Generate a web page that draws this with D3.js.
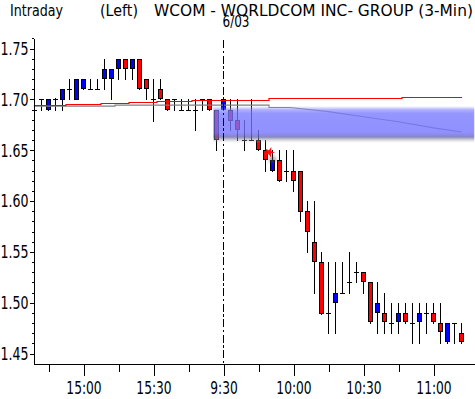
<!DOCTYPE html>
<html>
<head>
<meta charset="utf-8">
<script src="https://cdn.jsdelivr.net/npm/d3@7"></script>
<style>
body { margin: 0; background: #fff; }
svg { display: block; font-family: "DejaVu Sans", sans-serif; }
</style>
</head>
<body>
<svg id="chart" width="475" height="399"></svg>
<script>
// candles, one every 3 minutes; index 0 is the 9:30 open of 6/03
var firstIdx = -27;
var opens  = [1.69, 1.70, 1.691, 1.70, 1.70, 1.71, 1.70, 1.711, 1.71, 1.71,
              1.721, 1.721, 1.731, 1.74, 1.731, 1.74, 1.72, 1.70, 1.71, 1.70,
              1.70, 1.69, 1.69, 1.69, 1.70, 1.70, 1.69,
              1.691, 1.69, 1.68, 1.66, 1.66, 1.66, 1.65, 1.631, 1.64, 1.63,
              1.63, 1.63, 1.59, 1.56, 1.54, 1.49, 1.501, 1.51, 1.52, 1.53,
              1.53, 1.52, 1.491, 1.49, 1.48, 1.482, 1.49, 1.48, 1.482, 1.49,
              1.49, 1.48, 1.462, 1.48, 1.47];
var highs  = [1.70, 1.70, 1.70, 1.701, 1.71, 1.72, 1.72, 1.72, 1.72, 1.72,
              1.74, 1.73, 1.74, 1.74, 1.74, 1.74, 1.72, 1.72, 1.72, 1.70,
              1.70, 1.70, 1.70, 1.70, 1.70, 1.70, 1.69,
              1.70, 1.70, 1.70, 1.68, 1.70, 1.67, 1.66, 1.65, 1.65, 1.65,
              1.65, 1.63, 1.60, 1.60, 1.55, 1.54, 1.54, 1.54, 1.55, 1.54,
              1.53, 1.52, 1.52, 1.51, 1.50, 1.50, 1.50, 1.50, 1.50, 1.50,
              1.50, 1.50, 1.48, 1.48, 1.48];
var lows   = [1.679, 1.69, 1.69, 1.69, 1.69, 1.70, 1.70, 1.71, 1.71, 1.71,
              1.71, 1.70, 1.72, 1.72, 1.72, 1.71, 1.70, 1.679, 1.70, 1.69,
              1.69, 1.69, 1.69, 1.67, 1.69, 1.69, 1.65,
              1.69, 1.67, 1.66, 1.65, 1.66, 1.65, 1.63, 1.63, 1.62, 1.62,
              1.61, 1.58, 1.55, 1.51, 1.489, 1.47, 1.47, 1.51, 1.51, 1.52,
              1.51, 1.48, 1.47, 1.47, 1.47, 1.47, 1.48, 1.46, 1.46, 1.47,
              1.48, 1.46, 1.46, 1.46, 1.46];
var closes = [1.69, 1.70, 1.70, 1.70, 1.71, 1.71, 1.72, 1.72, 1.71, 1.71,
              1.73, 1.73, 1.74, 1.731, 1.74, 1.711, 1.711, 1.70, 1.701, 1.691,
              1.70, 1.69, 1.69, 1.69, 1.70, 1.691, 1.661,
              1.70, 1.68, 1.671, 1.66, 1.66, 1.651, 1.641, 1.64, 1.621, 1.63,
              1.621, 1.59, 1.571, 1.541, 1.49, 1.49, 1.51, 1.51, 1.52, 1.53,
              1.521, 1.482, 1.50, 1.482, 1.48, 1.49, 1.482, 1.48, 1.49, 1.49,
              1.482, 1.472, 1.48, 1.48, 1.462];

// moving averages (index, price)
var redIdx  = [-27.1, -22.5, -17.5, -13.5, -9.5, -4.5, 6.5, 25.5, 34];
var redVal  = [1.6940, 1.6954, 1.6964, 1.6973, 1.6983, 1.6993, 1.7015, 1.7023, 1.7023];
var greyIdx = [-27.1, -15.5, -15.5, 6.5, 6.5, 9.5, 15, 20, 25, 30, 34];
var greyVal = [1.6934, 1.6934, 1.6944, 1.6944, 1.6921, 1.6921, 1.688, 1.683, 1.678, 1.672, 1.668];

// shaded price zone
var zoneIdx = [-1.5, 35.857];
var zonePrice = [1.6935, 1.6571];

// axes
var xMinorTicks = [-25, -20, -15, -10, -5, 0, 5, 10, 15, 20, 25, 30];
var xLabelTicks = [-20, -10, 0, 10, 20, 30];
var xLabels = ["15:00", "15:30", "9:30", "10:00", "10:30", "11:00"];
var yMajorTicks = [1.45, 1.50, 1.55, 1.60, 1.65, 1.70, 1.75];
var dayBreakIdx = 0;

var svg = d3.select("#chart");

var x = d3.scaleLinear().domain([-27.143, 35.857]).range([33.5, 474.5]);
var y = d3.scaleLinear().domain([1.4402, 1.7603]).range([363.5, 38.1]);

var candles = opens.map(function(o, i) {
    return {i: firstIdx + i, o: o, h: highs[i], l: lows[i], c: closes[i]};
});

function py(v) { return Math.round(y(v)) + 0.5; }

// title: narrow bitmap-like font, squeezed to the measured width
function title(txt, x0, y0, w, size) {
    var t = svg.append("g").append("text")
        .attr("font-size", size)
        .text(txt);
    var sx = w / t.node().getComputedTextLength();
    d3.select(t.node().parentNode)
        .attr("transform", "translate(" + x0 + "," + y0 + ") scale(" + sx + ",1)");
}
title("Intraday", 10, 16, 53, 16.5);
title("(Left)", 100, 16, 38, 16.5);
title("WCOM - WORLDCOM INC- GROUP  (3-Min)", 154, 16, 319, 16.5);
title("6/03", 222.5, 27, 27, 16.5);

// candles
var cg = svg.append("g").attr("shape-rendering", "crispEdges");
cg.selectAll("line.wick").data(candles).enter().append("line")
    .attr("class", "wick")
    .attr("x1", function(d) { return x(d.i); })
    .attr("x2", function(d) { return x(d.i); })
    .attr("y1", function(d) { return Math.round(y(d.h)); })
    .attr("y2", function(d) { return Math.round(y(d.l)) + 1; })
    .attr("stroke", "#000");

cg.selectAll("rect.body").data(candles.filter(function(d) { return d.o !== d.c; }))
    .enter().append("rect")
    .attr("class", "body")
    .attr("x", function(d) { return x(d.i) - 2; })
    .attr("width", 4)
    .attr("y", function(d) { return py(Math.max(d.o, d.c)); })
    .attr("height", function(d) { return py(Math.min(d.o, d.c)) - py(Math.max(d.o, d.c)); })
    .attr("fill", function(d) { return d.c > d.o ? "#0000ff" : "#ff0000"; })
    .attr("stroke", "#000");

cg.selectAll("line.doji").data(candles.filter(function(d) { return d.o === d.c; }))
    .enter().append("line")
    .attr("class", "doji")
    .attr("x1", function(d) { return x(d.i) - 2.5; })
    .attr("x2", function(d) { return x(d.i) + 2.5; })
    .attr("y1", function(d) { return py(d.o); })
    .attr("y2", function(d) { return py(d.o); })
    .attr("stroke", "#000");

// moving average lines
var greyLine = d3.line().x(function(d) { return x(d[0]); }).y(function(d) { return y(d[1]); });
var redLine = d3.line().x(function(d) { return Math.round(x(d[0])); }).y(function(d) { return py(d[1]); })
    .curve(d3.curveStepAfter);
svg.append("path")
    .datum(d3.zip(greyIdx, greyVal))
    .attr("d", greyLine)
    .attr("fill", "none").attr("stroke", "#808080").attr("stroke-width", 1.1);
svg.append("path")
    .datum(d3.zip(redIdx, redVal))
    .attr("d", redLine)
    .attr("fill", "none").attr("stroke", "#ff0000").attr("stroke-width", 1.2);

// shaded zone
var defs = svg.append("defs");
var grad = defs.append("linearGradient").attr("id", "zone")
    .attr("x1", 0).attr("y1", 0).attr("x2", 0).attr("y2", 1);
[[0, "#9696ff", 0], [0.1, "#8888ff", 0.65], [0.2, "#7878ff", 0.78],
 [0.72, "#7474ff", 0.8], [0.84, "#6666b4", 0.78], [0.9, "#8c8ca0", 0.5], [1, "#c8c8c8", 0]]
    .forEach(function(s) {
        grad.append("stop").attr("offset", s[0]).attr("stop-color", s[1]).attr("stop-opacity", s[2]);
    });
var hgrad = defs.append("linearGradient").attr("id", "zoneMask")
    .attr("x1", 0).attr("y1", 0).attr("x2", 1).attr("y2", 0);
hgrad.append("stop").attr("offset", 0).attr("stop-color", "#fff").attr("stop-opacity", 0.6);
hgrad.append("stop").attr("offset", 0.01).attr("stop-color", "#fff").attr("stop-opacity", 1);
hgrad.append("stop").attr("offset", 1).attr("stop-color", "#fff").attr("stop-opacity", 1);
defs.append("mask").attr("id", "zm").attr("maskContentUnits", "objectBoundingBox")
    .append("rect").attr("width", 1).attr("height", 1).attr("fill", "url(#zoneMask)");
svg.append("rect")
    .attr("x", x(zoneIdx[0])).attr("width", x(zoneIdx[1]) - x(zoneIdx[0]))
    .attr("y", y(zonePrice[0])).attr("height", y(zonePrice[1]) - y(zonePrice[0]))
    .attr("fill", "url(#zone)")
    .attr("mask", "url(#zm)");

// little red marker with shadow
defs.append("filter").attr("id", "blur").append("feGaussianBlur").attr("stdDeviation", 1.5);
var star = d3.symbol().type(d3.symbolStar).size(34);
svg.append("path").attr("d", star)
    .attr("transform", "translate(" + (x(6) + 7) + "," + (y(1.641) + 0) + ") rotate(20)")
    .attr("fill", "#555").attr("opacity", 0.6).attr("filter", "url(#blur)");
svg.append("path").attr("d", star)
    .attr("transform", "translate(" + (x(6) + 4) + "," + (y(1.648)) + ") rotate(20)")
    .attr("fill", "#ff1010");

// day break
svg.append("line")
    .attr("x1", x(dayBreakIdx)).attr("x2", x(dayBreakIdx))
    .attr("y1", 40).attr("y2", 363)
    .attr("stroke", "#000").attr("stroke-dasharray", "8,2.5,2.5,2.5")
    .attr("shape-rendering", "crispEdges");

// y axis
var yMinor = svg.append("g").attr("transform", "translate(33.5,0)")
    .call(d3.axisLeft(y).ticks(32).tickSize(2).tickSizeOuter(0).tickFormat(""));
var yMajor = svg.append("g").attr("transform", "translate(33.5,0)")
    .call(d3.axisLeft(y).tickValues(yMajorTicks).tickSize(4).tickSizeOuter(0)
        .tickFormat(d3.format(".2f")));
yMajor.select(".domain").remove();

// x axis
var xMinor = svg.append("g").attr("transform", "translate(0,363.5)")
    .call(d3.axisBottom(x).tickValues(xMinorTicks).tickSize(8).tickSizeOuter(0).tickFormat(""));
var xMajor = svg.append("g").attr("transform", "translate(0,363.5)")
    .call(d3.axisBottom(x).tickValues(xLabelTicks).tickSize(12).tickPadding(6.5)
        .tickFormat(function(d) { return xLabels[xLabelTicks.indexOf(d)]; }));
xMajor.select(".domain").remove();

svg.selectAll(".tick line, .domain").attr("shape-rendering", "crispEdges");
[yMinor, yMajor, xMinor, xMajor].forEach(function(g) {
    g.attr("font-family", null).attr("font-size", 18);
    g.selectAll("text").attr("fill", "#000").attr("transform", "scale(0.7,1)");
});
xMajor.attr("font-size", 17.5);
</script>
</body>
</html>
